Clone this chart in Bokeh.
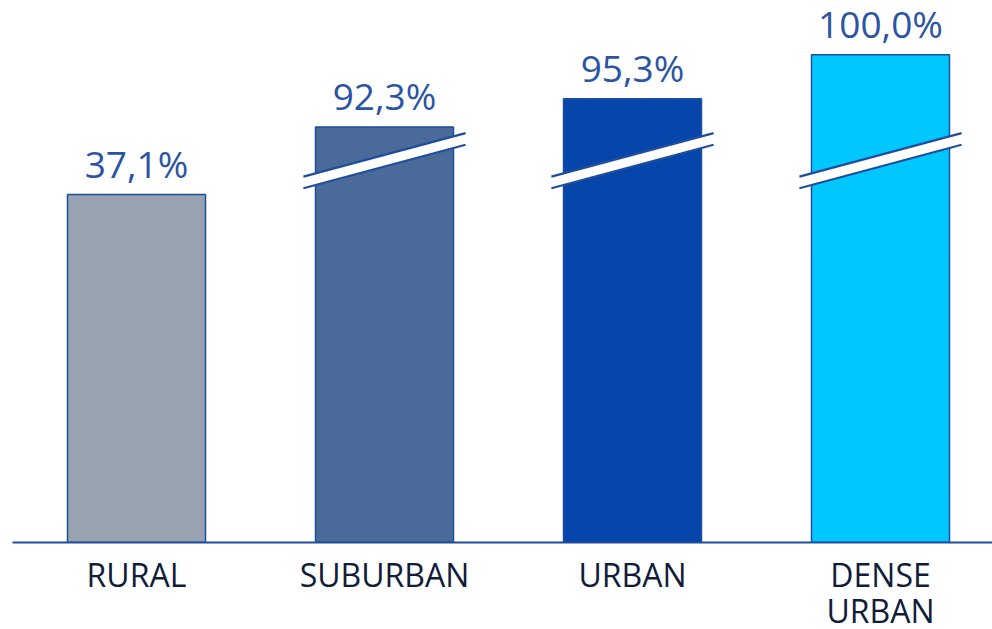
from bokeh.plotting import figure
from bokeh.models import Range1d, FixedTicker, ColumnDataSource
from bokeh.core.properties import value
from bokeh.embed import file_html
from bokeh.resources import INLINE

# ---- data ----
categories = ["RURAL", "SUBURBAN", "URBAN", "DENSE URBAN"]
tick_labels = ["RURAL", "SUBURBAN", "URBAN", "DENSE\nURBAN"]
shares = [37.1, 92.3, 95.3, 100.0]
value_labels = ["37,1%", "92,3%", "95,3%", "100,0%"]
colors = ["#98a3af", "#4a6b99", "#0646ab", "#00c8ff"]

# ---- broken value axis: the span between ~41 and ~89 is cut out ----
BREAK_AT = 40.7      # display level of the cut mark
BREAK_GAP = 48.0     # hidden part of the scale


def to_display(v):
    return v - BREAK_GAP if v > BREAK_AT + 5 else v


disp = [to_display(v) for v in shares]
xs = [i + 0.5 for i in range(len(categories))]
is_broken = [v > BREAK_AT + 5 for v in shares]

PX_PER_UNIT = 9.38
FRAME_H = 542
FRAME_W = 980
SLOT_PX = 248
LABEL_GAP_PX = 31

label_y = [d + LABEL_GAP_PX / PX_PER_UNIT for d in disp]

p = figure(
    frame_width=FRAME_W, frame_height=FRAME_H,
    x_range=Range1d(0, FRAME_W / SLOT_PX),
    y_range=Range1d(0, FRAME_H / PX_PER_UNIT),
    output_backend="svg", toolbar_location=None,
    min_border_left=12, min_border_right=0, min_border_top=0, min_border_bottom=86,
)
p.outline_line_color = None
p.grid.visible = False
p.yaxis.visible = False
p.background_fill_color = "white"
p.border_fill_color = "white"

src = ColumnDataSource(dict(x=xs, top=disp, ly=label_y, color=colors,
                            label=value_labels, cat=categories))
p.vbar(x="x", top="top", width=138 / SLOT_PX, bottom=0, fill_color="color",
       line_color="#1f4e9e", line_width=1.5, source=src)

# break marks
HX = 0.327
SLOPE_H = 2.32
THICK = 0.62
bx, by, l1x, l1y = [], [], [], []
for x, b in zip(xs, is_broken):
    if not b:
        continue
    x0, x1 = x - HX, x + HX
    y0, y1 = BREAK_AT - SLOPE_H, BREAK_AT + SLOPE_H
    bx.append([x0, x1, x1, x0])
    by.append([y0 - THICK, y1 - THICK, y1 + THICK, y0 + THICK])
    l1x += [[x0, x1], [x0, x1]]
    l1y += [[y0 - THICK, y1 - THICK], [y0 + THICK, y1 + THICK]]
p.patches(bx, by, fill_color="white", line_color=None)
p.multi_line(l1x, l1y, line_color="#1f4e9e", line_width=2.2)

p.text(x="x", y="ly", text="label", source=src, text_align="center",
       text_baseline="alphabetic", text_font=value("Open Sans"),
       text_font_size="37px", text_color="#2b55a3")

ax = p.xaxis[0]
ax.ticker = FixedTicker(ticks=xs)
ax.major_label_overrides = {x: t for x, t in zip(xs, tick_labels)}
ax.major_tick_line_color = None
ax.minor_tick_line_color = None
ax.axis_line_color = "#1f4e9e"
ax.axis_line_width = 2
ax.major_label_text_font = "Open Sans"
ax.major_label_text_font_size = "32px"
ax.major_label_text_color = "#101c3a"
ax.major_label_text_line_height = 0.85
ax.major_label_standoff = 4

open("out.html", "w").write(file_html(p, INLINE))
